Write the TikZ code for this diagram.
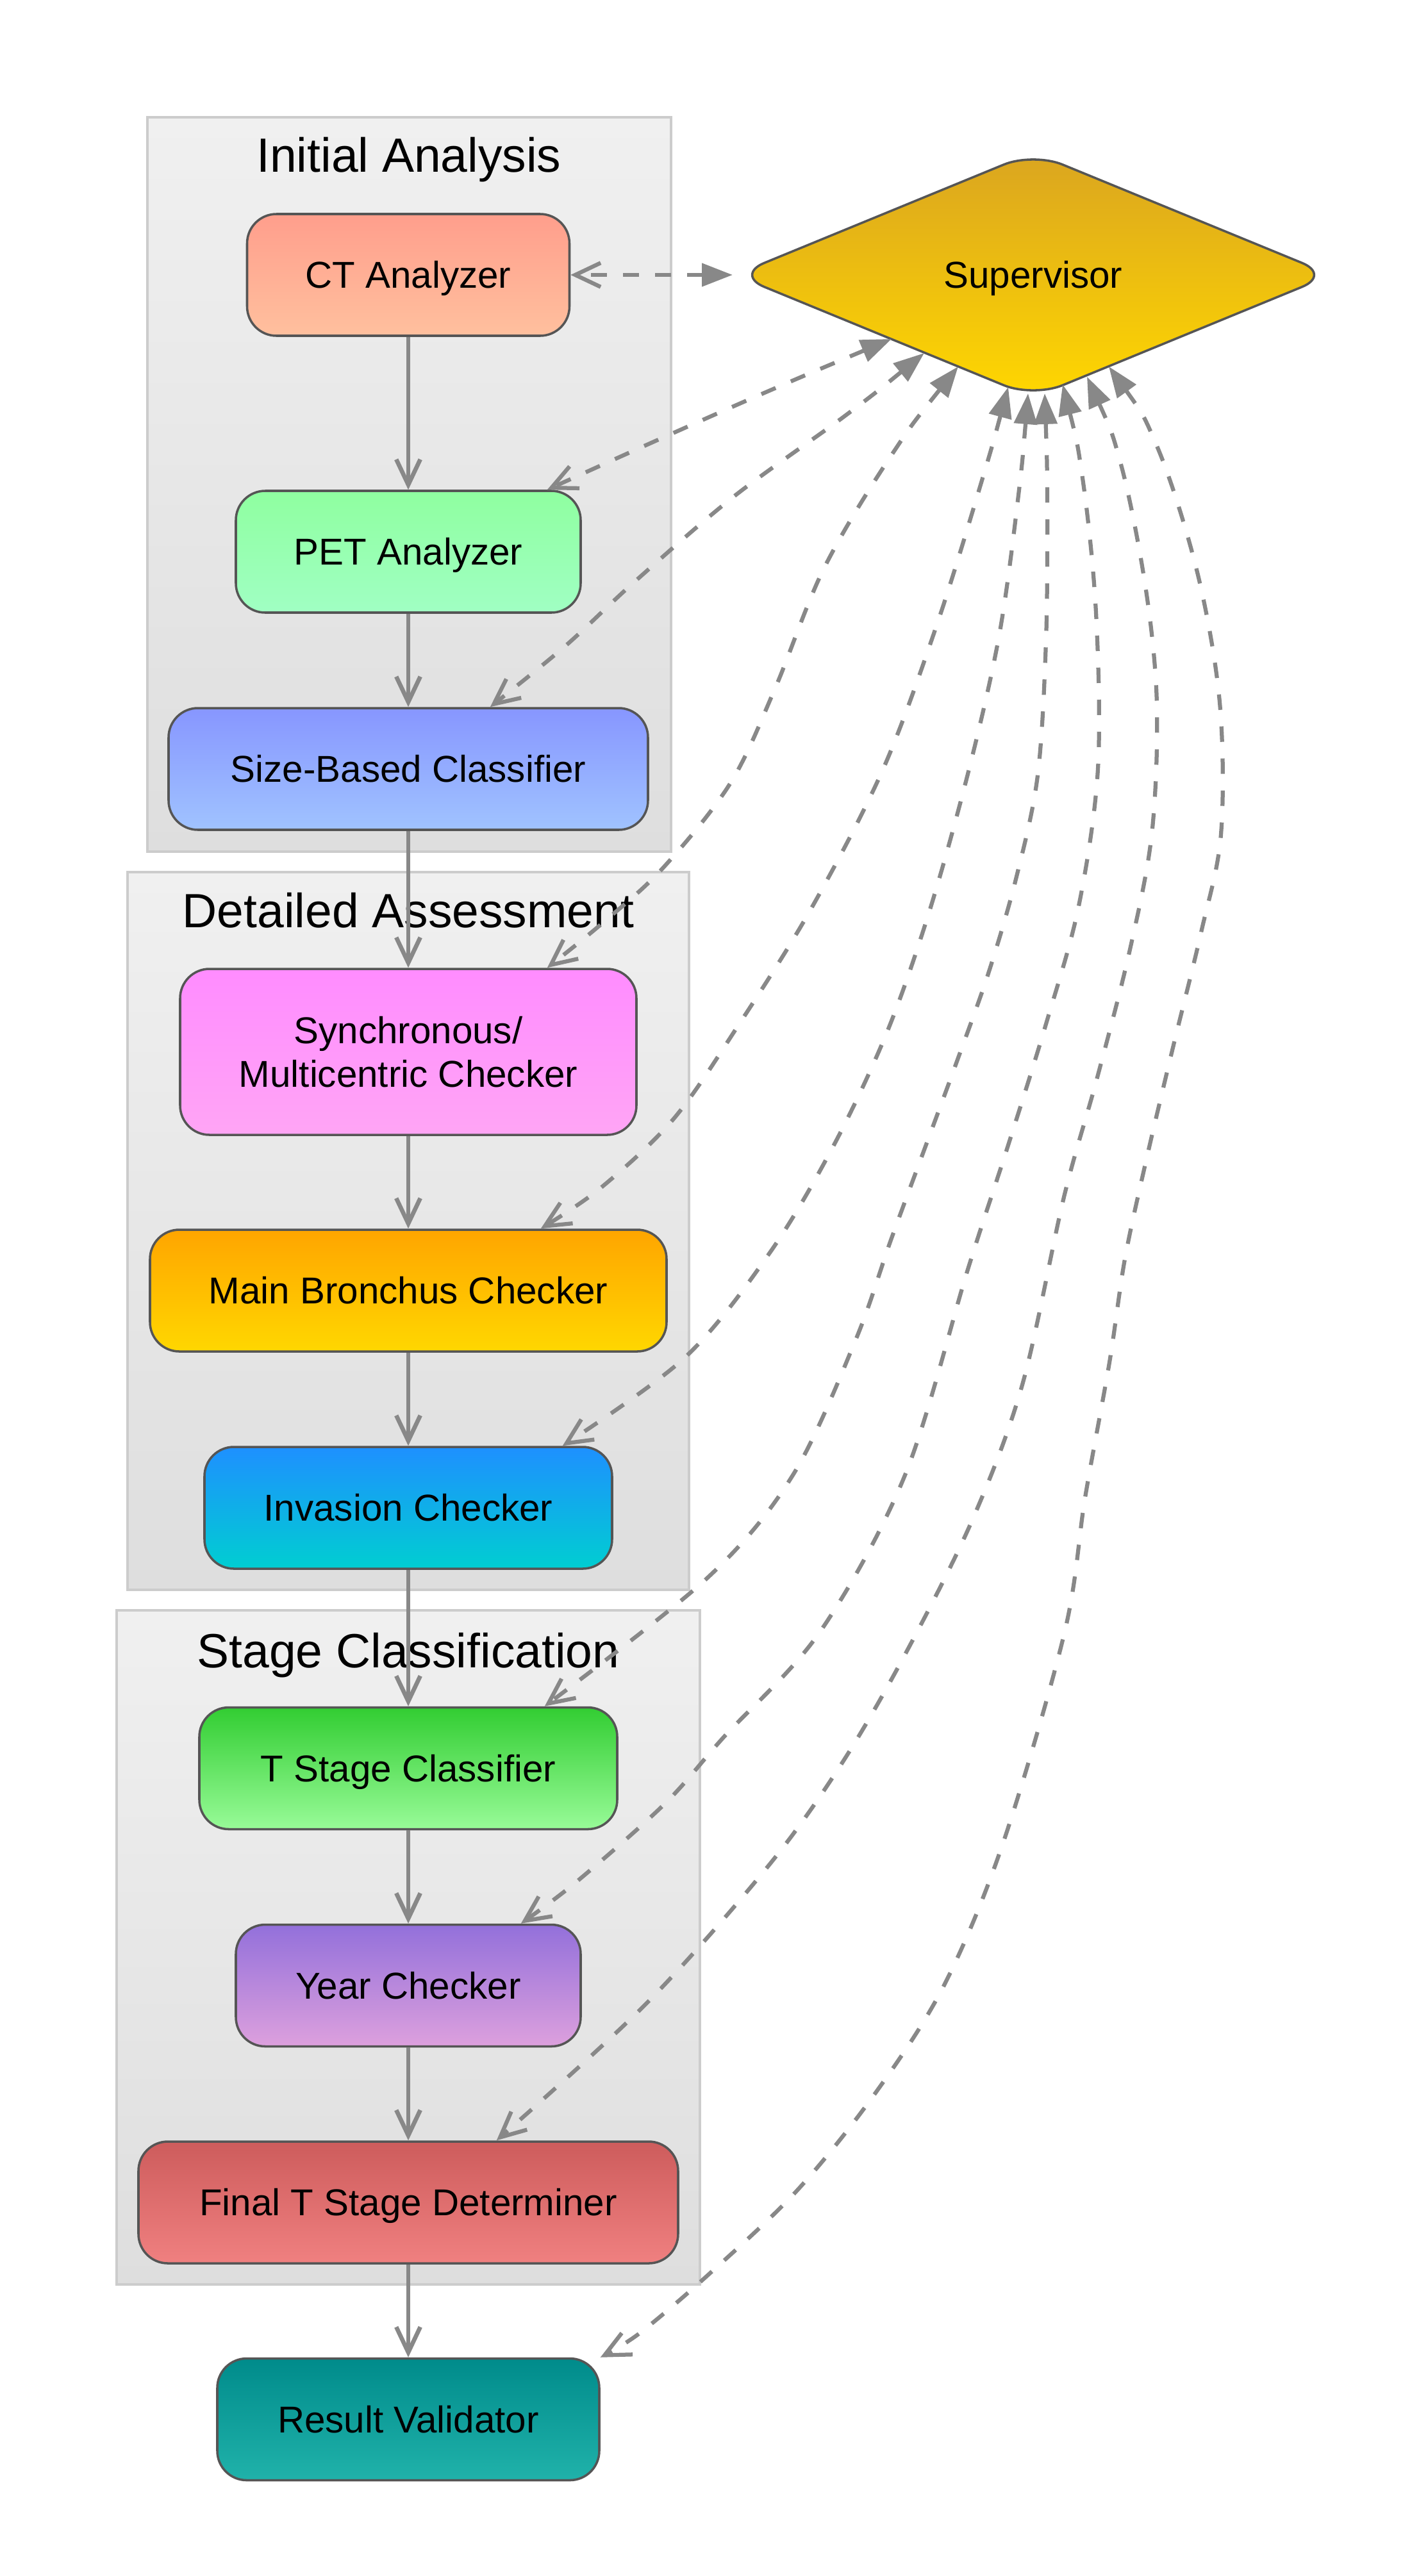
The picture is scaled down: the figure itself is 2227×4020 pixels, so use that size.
\documentclass[tikz,border=0pt]{standalone}
\usepackage{fontspec}
\setmainfont{Liberation Sans}
\usetikzlibrary{arrows.meta,calc}
\definecolor{edgegray}{RGB}{136,136,136}
\definecolor{nodeborder}{RGB}{85,85,85}
\definecolor{clborder}{RGB}{204,204,204}
\definecolor{cltop}{RGB}{240,240,240}
\definecolor{clbot}{RGB}{222,222,222}
\definecolor{ctA}{RGB}{255,158,140}\definecolor{ctB}{RGB}{255,192,158}
\definecolor{petA}{RGB}{143,255,160}\definecolor{petB}{RGB}{160,255,195}
\definecolor{sizeA}{RGB}{135,150,255}\definecolor{sizeB}{RGB}{160,195,255}
\definecolor{syncA}{RGB}{255,140,255}\definecolor{syncB}{RGB}{255,165,245}
\definecolor{mainA}{RGB}{255,165,0}\definecolor{mainB}{RGB}{255,215,0}
\definecolor{invA}{RGB}{30,144,255}\definecolor{invB}{RGB}{0,206,209}
\definecolor{tA}{RGB}{50,205,50}\definecolor{tB}{RGB}{152,251,152}
\definecolor{yearA}{RGB}{147,112,219}\definecolor{yearB}{RGB}{221,160,221}
\definecolor{finA}{RGB}{205,92,92}\definecolor{finB}{RGB}{240,128,128}
\definecolor{resA}{RGB}{0,139,139}\definecolor{resB}{RGB}{32,178,170}
\definecolor{supA}{RGB}{218,165,32}\definecolor{supB}{RGB}{255,215,0}
\begin{document}
\begin{tikzpicture}[x=0.24pt,y=-0.24pt,
  box/.style={draw=nodeborder, line width=0.85pt, rounded corners=11pt, inner sep=0pt,
    minimum height=45.6pt, align=center, font=\fontsize{14pt}{16.3pt}\selectfont},
  oneline/.style={text height=10pt, text depth=0pt},
  cluster/.style={draw=clborder, line width=0.85pt, top color=cltop, bottom color=clbot, inner sep=0pt},
  cltitle/.style={anchor=base, inner sep=0pt, font=\fontsize{18pt}{21pt}\selectfont},
  flow/.style={draw=edgegray, line width=1.6pt, -{Straight Barb[length=9.5pt,width=9pt]}},
  sedge/.style={draw=edgegray, line width=1.5pt, dash pattern=on 5.8pt off 6.2pt,
    {Triangle[length=11.5pt,width=8.5pt]}-{Straight Barb[length=9.5pt,width=9pt]}}
]
\useasboundingbox (0,0) rectangle (2227,4020);
\fill[white] (0,0) rectangle (2227,4020);

% clusters
\node[cluster, minimum width=196.08pt, minimum height=275.04pt] (c1) at (638.5,756) {};
\node[cluster, minimum width=210.24pt, minimum height=268.8pt] (c2) at (637,1921) {};
\node[cluster, minimum width=218.4pt, minimum height=252.48pt] (c3) at (637,3039) {};
\node[cltitle] (t1) at (638,268) {Initial Analysis};
\node[cltitle] (t2) at (637,1447) {Detailed Assessment};
\node[cltitle] (t3) at (637,2602) {Stage Classification};

% supervisor
\path[draw=nodeborder, line width=0.85pt, top color=supA, bottom color=supB, rounded corners=11.8pt]
  (1147,429) -- (1612,238) -- (2077,429) -- (1612,620) -- cycle;
\node[inner sep=0pt, oneline, font=\fontsize{14pt}{16.3pt}\selectfont] (sup) at (1612,429) {Supervisor};

% nodes
\node[box, oneline, top color=ctA, bottom color=ctB, minimum width=120.72pt] (ct) at (637,429) {CT Analyzer};
\node[box, oneline, top color=petA, bottom color=petB, minimum width=129.12pt] (pet) at (637,861) {PET Analyzer};
\node[box, oneline, top color=sizeA, bottom color=sizeB, minimum width=179.52pt] (size) at (637,1200) {Size-Based Classifier};
\node[box, top color=syncA, bottom color=syncB, minimum width=170.88pt, minimum height=62.16pt] (sync) at (637,1641.5) {Synchronous/\\Multicentric Checker};
\node[box, oneline, top color=mainA, bottom color=mainB, minimum width=193.44pt] (main) at (637,2014) {Main Bronchus Checker};
\node[box, oneline, top color=invA, bottom color=invB, minimum width=152.64pt] (inv) at (637,2353) {Invasion Checker};
\node[box, oneline, top color=tA, bottom color=tB, minimum width=156.48pt] (tst) at (637,2759.5) {T Stage Classifier};
\node[box, oneline, top color=yearA, bottom color=yearB, minimum width=129.12pt] (year) at (637,3098.5) {Year Checker};
\node[box, oneline, top color=finA, bottom color=finB, minimum width=202.08pt] (final) at (637,3437) {Final T Stage Determiner};
\node[box, oneline, top color=resA, bottom color=resB, minimum width=143.04pt] (result) at (637,3775.5) {Result Validator};

% flow edges
\draw[flow] (ct) -- (pet);
\draw[flow] (pet) -- (size);
\draw[flow] (size) -- (sync);
\draw[flow] (sync) -- (main);
\draw[flow] (main) -- (inv);
\draw[flow] (inv) -- (tst);
\draw[flow] (tst) -- (year);
\draw[flow] (year) -- (final);
\draw[flow] (final) -- (result);

% supervisor attachment points
\coordinate (sC) at (1143,429);
\coordinate (sP) at (1391,529);
\coordinate (sS) at (1442,551);
\coordinate (sY) at (1495,572);
\coordinate (sM) at (1573,604);
\coordinate (sI) at (1604,614);
\coordinate (sT) at (1630,614);
\coordinate (sR) at (1658,600);
\coordinate (sF) at (1696,588);
\coordinate (sV) at (1730,572);
% node attachment points
\coordinate (eP) at ($(pet.north east)+(-54,0)$);
\coordinate (eS) at ($(size.north east)+(-248,0)$);
\coordinate (eY) at ($(sync.north east)+(-141,0)$);
\coordinate (eM) at ($(main.north east)+(-198,0)$);
\coordinate (eI) at ($(inv.north east)+(-79,0)$);
\coordinate (eT) at ($(tst.north east)+(-115,0)$);
\coordinate (eR) at ($(year.north east)+(-95,0)$);
\coordinate (eF) at ($(final.north east)+(-285,0)$);
\coordinate (eV) at (result.north east);

% supervisor edges
\draw[sedge] (sC) -- (ct);
\draw[sedge] plot[smooth, tension=0.55] coordinates {(sP) (1195,612) (1005,696) (eP)};
\draw[sedge] plot[smooth, tension=0.55] coordinates {(sS) (1321,647) (1146,774) (991,907) (881,1009) (eS)};
\draw[sedge] plot[smooth, tension=0.55] coordinates {(sY) (1391,710) (1286,886) (1209,1075) (1139,1223) (1033,1356) (937,1443) (eY)};
\draw[sedge] plot[smooth, tension=0.55] coordinates {(sM) (1531,753) (1461,977) (1377,1202) (1265,1419) (1152,1600) (1051,1746) (937,1854) (eM)};
\draw[sedge] plot[smooth, tension=0.55] coordinates {(sI) (1588,781) (1559,991) (1512,1200) (1451,1419) (1385,1608) (1301,1787) (1201,1955) (1068,2119) (eI)};
\draw[sedge] plot[smooth, tension=0.55] coordinates {(sT) (1634,781) (1632,1000) (1619,1210) (1586,1368) (1543,1516) (1492,1659) (1441,1797) (1390,1935) (1335,2091) (1237,2302) (1103,2463) (eT)};
\draw[sedge] plot[smooth, tension=0.55] coordinates {(sR) (1689,746) (1710,956) (1713,1200) (1683,1414) (1632,1598) (1573,1787) (1510,1981) (1412,2302) (1279,2547) (1129,2711) (1037,2815) (899,2937) (eR)};
\draw[sedge] plot[smooth, tension=0.55] coordinates {(sF) (1749,725) (1788,921) (1805,1100) (1797,1302) (1762,1486) (1711,1685) (1660,1868) (1595,2161) (1517,2372) (1412,2582) (1312,2754) (1197,2914) (1006,3129) (eF)};
\draw[sedge] plot[smooth, tension=0.55] coordinates {(sV) (1805,696) (1868,893) (1903,1096) (1905,1302) (1874,1455) (1829,1639) (1788,1812) (1755,1965) (1731,2126) (1693,2337) (1661,2547) (1565,2876) (1473,3098) (1366,3266) (1243,3419) (1106,3549) (998,3641) (eV)};
\end{tikzpicture}
\end{document}
